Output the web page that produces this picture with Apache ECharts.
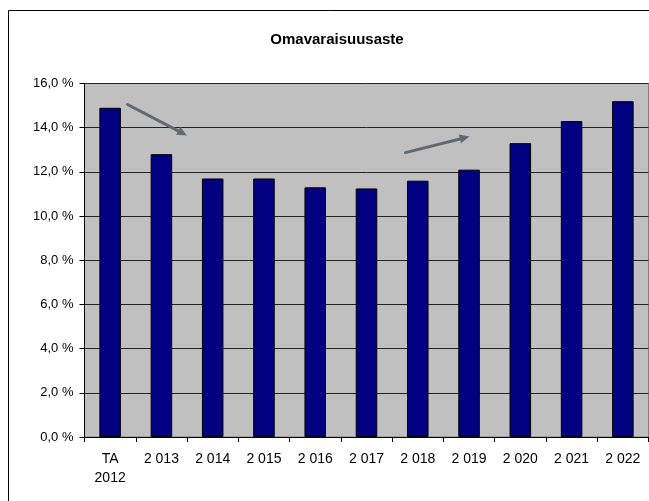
<!DOCTYPE html>
<html>
<head>
<meta charset="utf-8">
<script src="https://cdn.jsdelivr.net/npm/echarts@6/dist/echarts.min.js"></script>
<style>
html,body{margin:0;padding:0;background:#fff;}
#c{width:649px;height:501px;}
</style>
</head>
<body>
<div id="c"></div>
<script>
const categories = ['TA\n2012', '2 013', '2 014', '2 015', '2 016', '2 017', '2 018', '2 019', '2 020', '2 021', '2 022'];
const omavaraisuusaste = [14.9, 12.8, 11.7, 11.7, 11.3, 11.25, 11.6, 12.1, 13.3, 14.3, 15.2];
const yTicks = [0, 2, 4, 6, 8, 10, 12, 14, 16];
// trend arrows in data space: [category index, value]
const arrowDown = [[0.34, 15.05], [1.5, 13.65]];
const arrowUp = [[5.76, 12.87], [7.01, 13.6]];

const FONT = 'Liberation Sans, Arial, sans-serif';
const chart = echarts.init(document.getElementById('c'), null, {renderer: 'canvas'});
chart.setOption({
  animation: false,
  backgroundColor: '#fff',
  title: {
    text: 'Omavaraisuusaste',
    left: 332, top: 27, textAlign: 'center',
    textStyle: {fontFamily: FONT, fontSize: 15, fontWeight: 'bold', color: '#000'}
  },
  grid: {
    left: 84.5, top: 83.5, right: 0.5, bottom: 64,
    show: true, backgroundColor: '#c0c0c0', borderColor: '#808080', borderWidth: 1
  },
  xAxis: {
    type: 'category',
    data: categories,
    axisLine: {lineStyle: {color: '#000', width: 1}},
    axisTick: {show: true, length: 5, lineStyle: {color: '#000'}},
    axisLabel: {fontFamily: FONT, fontSize: 14, color: '#000', margin: 12.5, lineHeight: 19, interval: 0}
  },
  yAxis: {
    type: 'value',
    min: yTicks[0], max: yTicks[yTicks.length - 1], interval: 2,
    axisLine: {show: true, lineStyle: {color: '#000', width: 1}},
    axisTick: {show: true, length: 5, lineStyle: {color: '#000'}},
    splitLine: {lineStyle: {color: '#222', width: 1}},
    axisLabel: {
      fontFamily: FONT, fontSize: 13, color: '#000', margin: 11,
      formatter: v => v.toFixed(1).replace('.', ',') + ' %'
    }
  },
  series: [{
    type: 'bar',
    data: omavaraisuusaste,
    barWidth: '42%',
    itemStyle: {color: '#000080', borderColor: '#000', borderWidth: 1}
  }]
});

function toPx(p) {
  const x0 = chart.convertToPixel({xAxisIndex: 0}, 0);
  const x1 = chart.convertToPixel({xAxisIndex: 0}, 1);
  const y = chart.convertToPixel({yAxisIndex: 0}, p[1]);
  return [x0 + p[0] * (x1 - x0), y];
}
function arrow(pts) {
  const a = toPx(pts[0]), b = toPx(pts[1]);
  const dx = b[0] - a[0], dy = b[1] - a[1];
  const len = Math.sqrt(dx * dx + dy * dy);
  const ux = dx / len, uy = dy / len;
  const hl = 10, hw = 4.5;
  const base = [b[0] - ux * hl, b[1] - uy * hl];
  const col = '#5f6a72';
  return [
    {type: 'line', shape: {x1: a[0], y1: a[1], x2: base[0], y2: base[1]},
     style: {stroke: col, lineWidth: 3, lineCap: 'round'}, z: 100},
    {type: 'polygon', shape: {points: [b, [base[0] - uy * hw, base[1] + ux * hw], [base[0] + uy * hw, base[1] - ux * hw]]},
     style: {fill: col}, z: 100}
  ];
}
chart.setOption({
  graphic: [
    {type: 'rect', shape: {x: 8.5, y: 10.5, width: 700, height: 600},
     style: {fill: 'none', stroke: '#000', lineWidth: 1}, z: -1, silent: true}
  ].concat(arrow(arrowDown), arrow(arrowUp))
});
</script>
</body>
</html>
